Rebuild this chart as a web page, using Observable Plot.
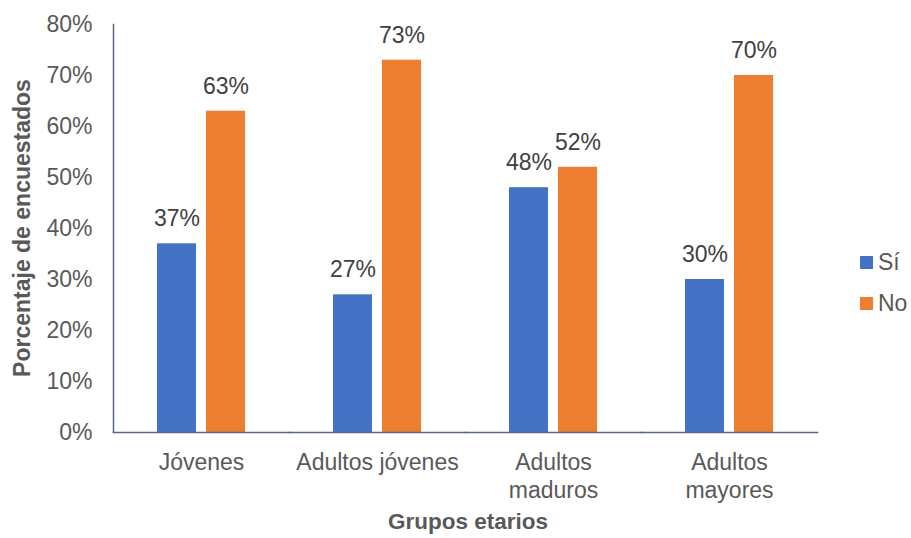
<!DOCTYPE html>
<html>
<head>
<meta charset="utf-8">
<script src="https://cdn.jsdelivr.net/npm/d3@7"></script>
<script src="https://cdn.jsdelivr.net/npm/@observablehq/plot@0.6"></script>
<style>
  body { margin: 0; background: #fff; }
  #wrap { position: relative; width: 911px; height: 538px; font-family: "Liberation Sans", Arial, sans-serif; color: #595959; }
  #wrap svg { position: absolute; left: 0; top: 0; }
  .ytitle { position: absolute; left: 22px; top: 228px; transform: translate(-50%, -50%) rotate(-90deg); font-weight: bold; font-size: 23px; white-space: nowrap; }
  .xtitle { position: absolute; left: 468px; top: 522px; transform: translate(-50%, -50%); font-weight: bold; font-size: 22.5px; white-space: nowrap; }
  .legend { position: absolute; left: 860px; top: 248px; font-size: 23px; }
  .legend .item { display: flex; align-items: center; height: 28px; margin-bottom: 13px; }
  .legend .sw { width: 13px; height: 13px; margin-right: 5px; }
</style>
</head>
<body>
<div id="wrap"></div>
<script>
const categories = ["Jóvenes", "Adultos jóvenes", "Adultos maduros", "Adultos mayores"];
const tickLabels = ["Jóvenes", "Adultos jóvenes", "Adultos\nmaduros", "Adultos\nmayores"];
const series = ["Sí", "No"];
const siValues = [0.37, 0.27, 0.48, 0.30];
const noValues = [0.63, 0.73, 0.52, 0.70];
const colors = ["#4472C4", "#ED7D31"];
const yTicks = [0, 0.1, 0.2, 0.3, 0.4, 0.5, 0.6, 0.7, 0.8];

const rows = [];
categories.forEach((g, i) => {
  rows.push({group: g, serie: "Sí", value: siValues[i]});
  rows.push({group: g, serie: "No", value: noValues[i]});
});

const axisColor = "#5A6782";
const pct = d3.format(".0%");

const chart = Plot.plot({
  width: 911,
  height: 538,
  marginTop: 24,
  marginBottom: 106,
  marginLeft: 112,
  marginRight: 93,
  style: { fontFamily: "'Liberation Sans', Arial, sans-serif", fontSize: "23px", color: "#595959", background: "transparent", overflow: "visible" },
  fx: { domain: categories, padding: 0, label: null, axis: null },
  x: { domain: series, paddingInner: 0.2, paddingOuter: 0.865, axis: null },
  y: { domain: [0, 0.8], axis: null },
  color: { domain: series, range: colors },
  marks: [
    Plot.barY(rows, { fx: "group", x: "serie", y: "value", fill: "serie" }),
    Plot.text(rows, { fx: "group", x: "serie", y: "value", text: d => pct(d.value), dy: -25, fontSize: 23, fill: "#404040" }),
    Plot.axisY({ ticks: yTicks, tickSize: 0, tickPadding: 21, tickFormat: pct, fontSize: 23, fill: "#595959", label: null }),
    Plot.axisFx({ anchor: "bottom", tickSize: 0, tickPadding: 18, tickFormat: d => tickLabels[categories.indexOf(d)], fontSize: 23, fill: "#595959", lineHeight: 1.2, label: null }),
    Plot.frame({ anchor: "bottom", stroke: axisColor, strokeWidth: 1.5 }),
    Plot.frame({ anchor: "left", facetAnchor: "left", stroke: axisColor, strokeWidth: 1.5 })
  ]
});

const wrap = document.getElementById("wrap");
wrap.appendChild(chart);

const yt = document.createElement("div");
yt.className = "ytitle";
yt.textContent = "Porcentaje de encuestados";
wrap.appendChild(yt);

const xt = document.createElement("div");
xt.className = "xtitle";
xt.textContent = "Grupos etarios";
wrap.appendChild(xt);

const lg = document.createElement("div");
lg.className = "legend";
series.forEach((s, i) => {
  const it = document.createElement("div");
  it.className = "item";
  const sw = document.createElement("span");
  sw.className = "sw";
  sw.style.background = colors[i];
  const tx = document.createElement("span");
  tx.textContent = s;
  it.appendChild(sw);
  it.appendChild(tx);
  lg.appendChild(it);
});
wrap.appendChild(lg);
</script>
</body>
</html>
